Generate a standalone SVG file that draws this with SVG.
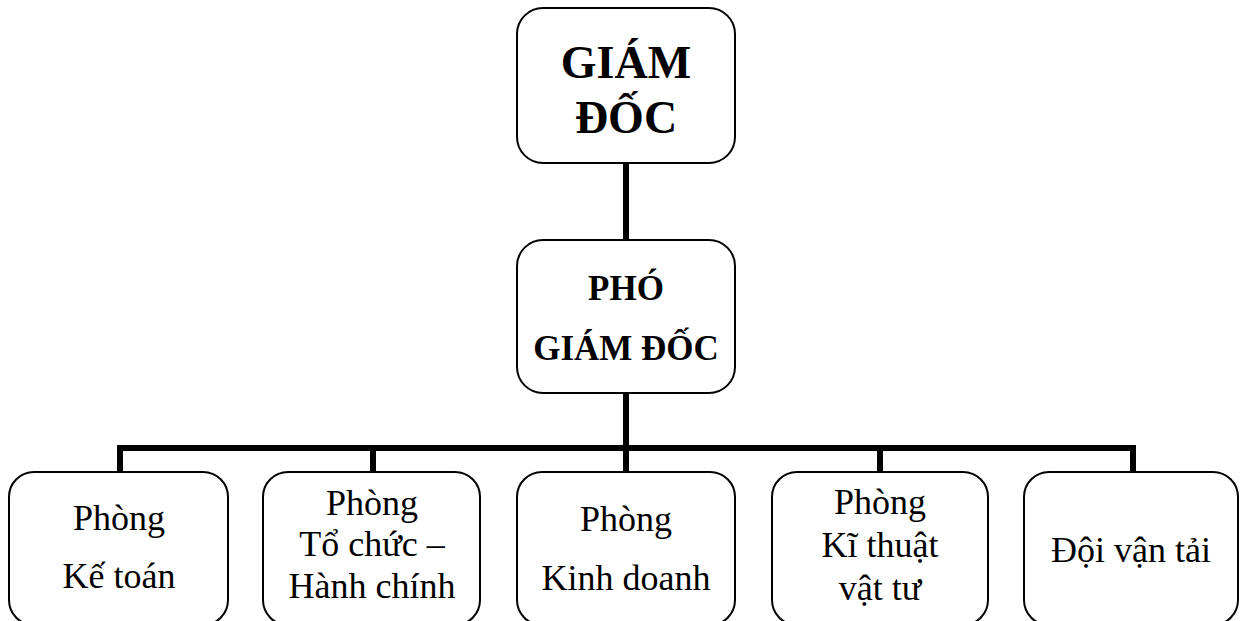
<svg xmlns="http://www.w3.org/2000/svg" width="1249" height="621" viewBox="0 0 1249 621">
  <style>
    .box { fill: #ffffff; stroke: #000000; stroke-width: 2; }
    .link { fill: none; stroke: #000000; stroke-width: 6; stroke-linejoin: miter; stroke-linecap: butt; }
    .head { font-family: "Liberation Serif", "Times New Roman", serif; font-weight: bold; fill: #000000; text-anchor: middle; }
    .unit { font-family: "Liberation Serif", "Times New Roman", serif; font-size: 36px; fill: #000000; text-anchor: middle; }
  </style>
  <rect width="1249" height="621" fill="#ffffff"/>

  <!-- connectors -->
  <g id="connectors">
    <path class="link" d="M626,163 V240"/>
    <path class="link" d="M626,393 V472"/>
    <path class="link" d="M120,472 V448 H1133 V472"/>
    <path class="link" d="M373,448 V472"/>
    <path class="link" d="M880,448 V472"/>
  </g>

  <g id="giam-doc">
    <rect class="box" x="517" y="8" width="218" height="155" rx="26" ry="26"/>
    <text class="head" font-size="46" x="626" y="78">GIÁM</text>
    <text class="head" font-size="46" x="626" y="133">ĐỐC</text>
  </g>

  <g id="pho-giam-doc">
    <rect class="box" x="517" y="240" width="218" height="153" rx="26" ry="26"/>
    <text class="head" font-size="35" x="626" y="300">PHÓ</text>
    <text class="head" font-size="35" x="626" y="360">GIÁM ĐỐC</text>
  </g>

  <g id="phong-ke-toan">
    <rect class="box" x="9" y="472" width="219" height="153" rx="25" ry="25"/>
    <text class="unit" x="119" y="530">Phòng</text>
    <text class="unit" x="119" y="588">Kế toán</text>
  </g>

  <g id="phong-to-chuc">
    <rect class="box" x="263" y="472" width="217" height="153" rx="25" ry="25"/>
    <text class="unit" x="372" y="515">Phòng</text>
    <text class="unit" x="372" y="556">Tổ chức –</text>
    <text class="unit" x="372" y="598">Hành chính</text>
  </g>

  <g id="phong-kinh-doanh">
    <rect class="box" x="517" y="472" width="218" height="153" rx="25" ry="25"/>
    <text class="unit" x="626" y="531">Phòng</text>
    <text class="unit" x="626" y="590">Kinh doanh</text>
  </g>

  <g id="phong-ki-thuat">
    <rect class="box" x="772" y="472" width="216" height="153" rx="25" ry="25"/>
    <text class="unit" x="880" y="514">Phòng</text>
    <text class="unit" x="880" y="557">Kĩ thuật</text>
    <text class="unit" x="880" y="600">vật tư</text>
  </g>

  <g id="doi-van-tai">
    <rect class="box" x="1024" y="472" width="214" height="153" rx="25" ry="25"/>
    <text class="unit" x="1131" y="562">Đội vận tải</text>
  </g>
</svg>
